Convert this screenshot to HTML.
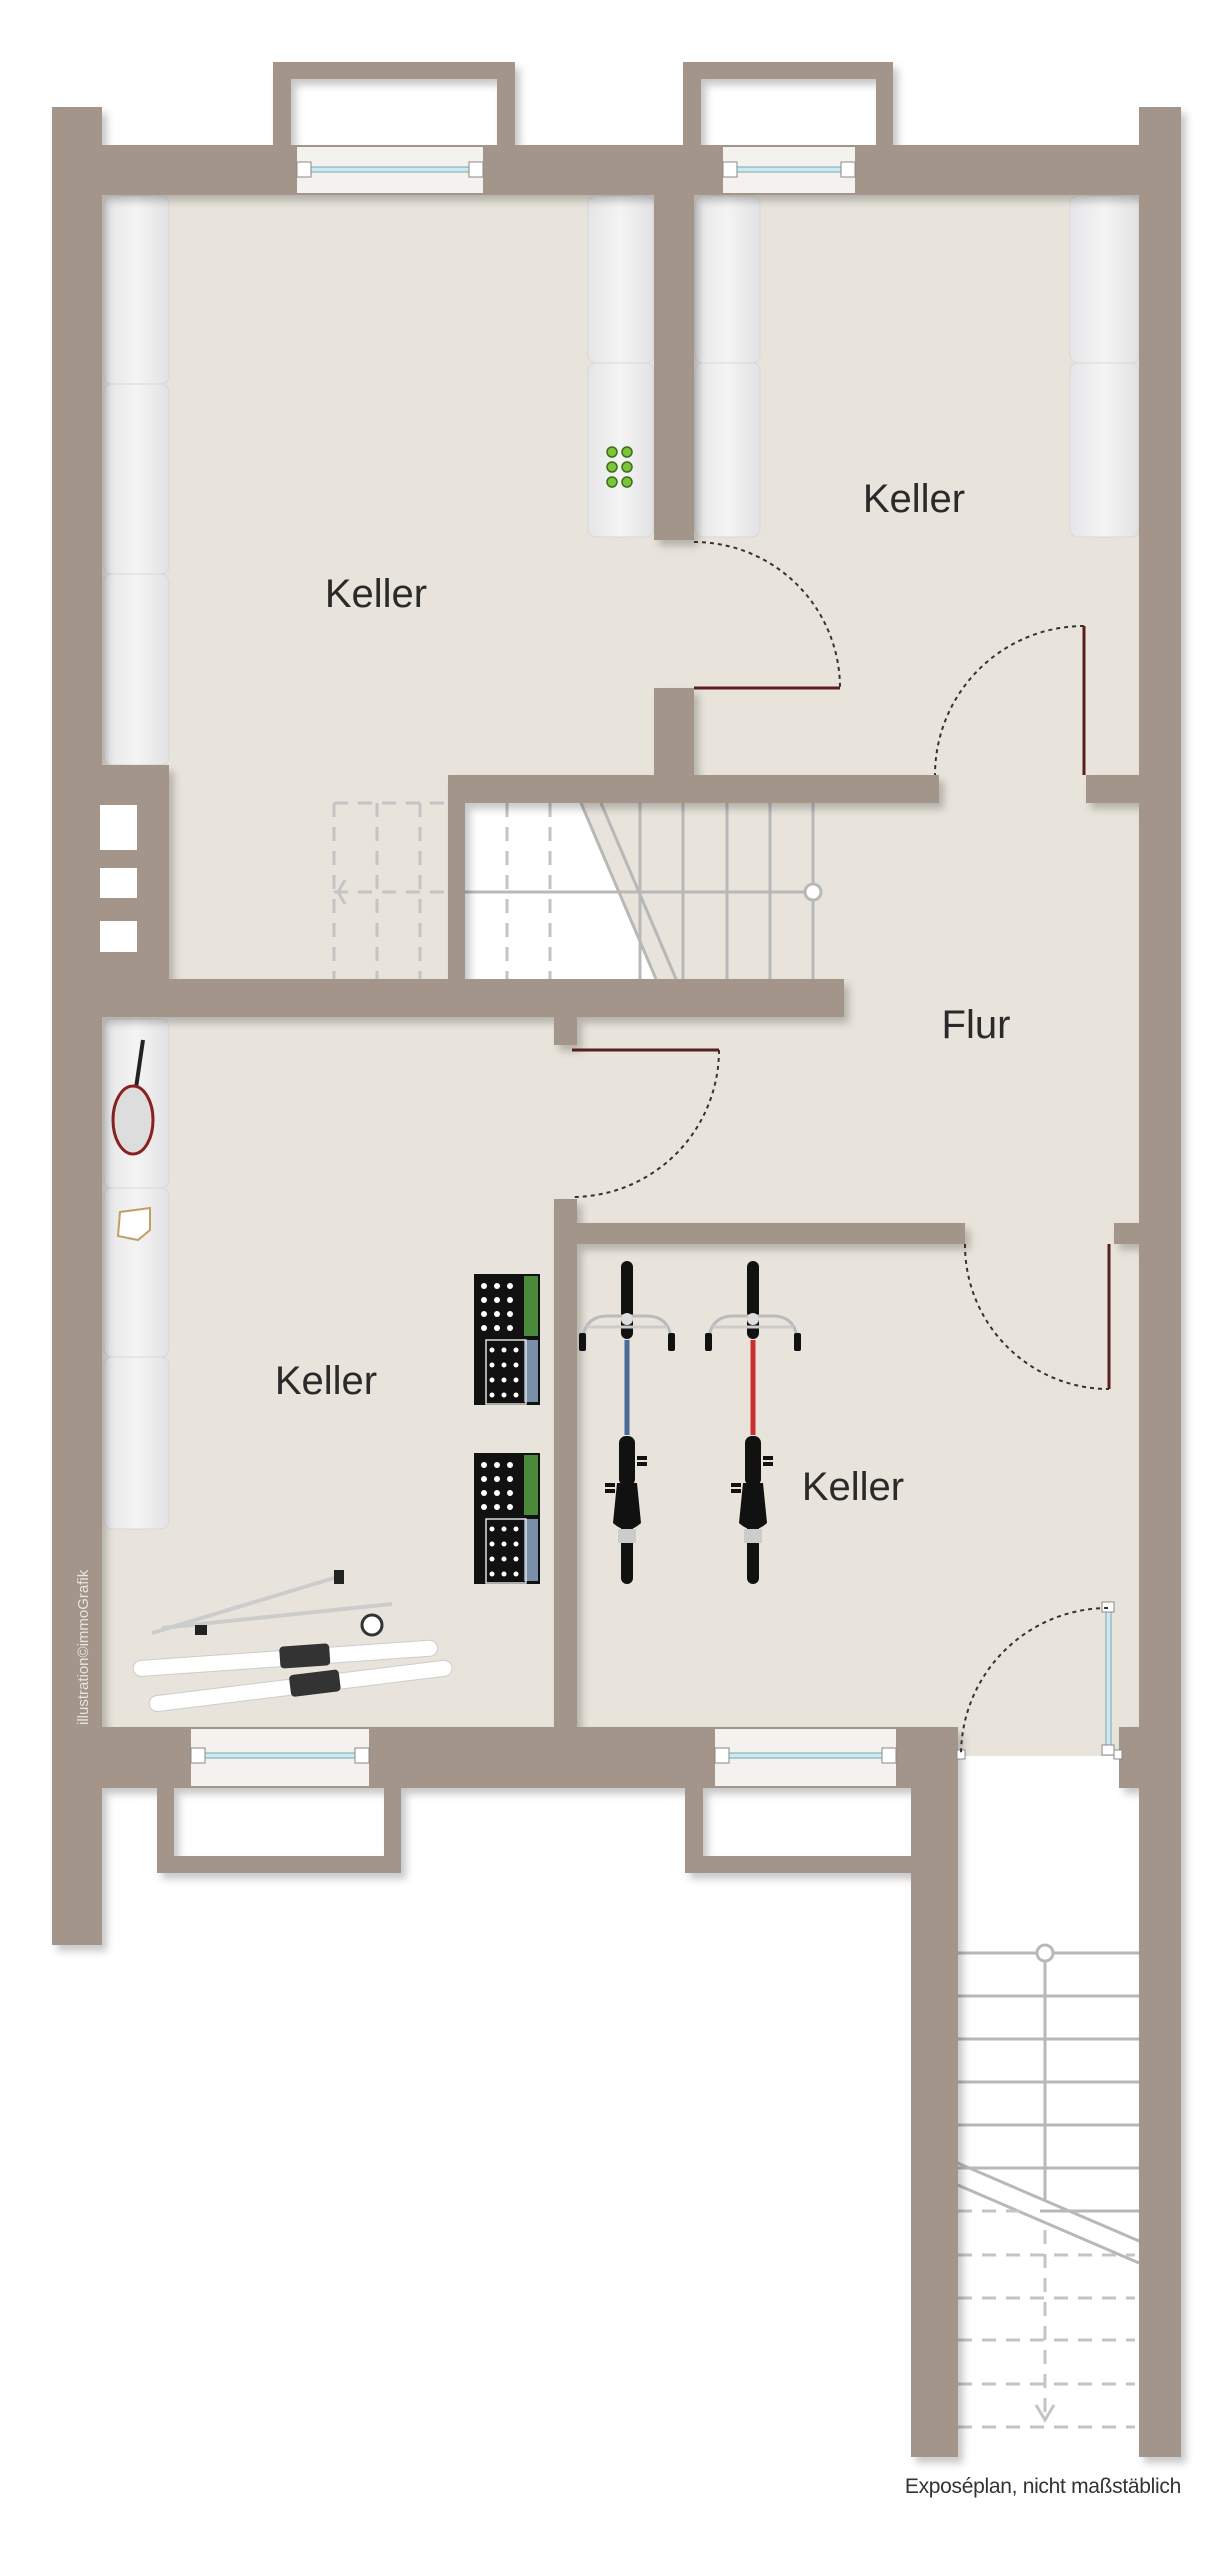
<!DOCTYPE html>
<html><head><meta charset="utf-8"><style>
html,body{margin:0;padding:0;background:#fff}
svg{display:block}
text{font-family:"Liberation Sans",sans-serif}
</style></head><body>
<svg width="1232" height="2560" viewBox="0 0 1232 2560" xmlns="http://www.w3.org/2000/svg">
<defs>
<filter id="sh" x="-5%" y="-5%" width="110%" height="110%"><feDropShadow dx="5" dy="6" stdDeviation="4" flood-color="#000" flood-opacity="0.22"/></filter>
<linearGradient id="shelf" x1="0" x2="1"><stop offset="0" stop-color="#e6e6e8"/><stop offset="0.5" stop-color="#f4f4f5"/><stop offset="1" stop-color="#e2e2e4"/></linearGradient>
<g id="bike">
<rect x="-6" y="0" width="12" height="78" rx="6" fill="#111"/>
<path d="M-44 75 Q-40 55 -20 55 L20 55 Q40 55 44 75" fill="none" stroke="#bbb" stroke-width="3"/>
<rect x="-48" y="72" width="7" height="18" rx="2" fill="#111"/><rect x="41" y="72" width="7" height="18" rx="2" fill="#111"/>
<line x1="-40" y1="66" x2="40" y2="66" stroke="#ccc" stroke-width="3"/>
<circle cx="0" cy="58" r="6" fill="#ddd"/>
<rect x="-8" y="175" width="16" height="50" rx="7" fill="#111"/>
<path d="M-10 222 L10 222 L14 262 Q0 275 -14 262 Z" fill="#111"/>
<rect x="10" y="195" width="10" height="4" fill="#111"/><rect x="10" y="201" width="10" height="4" fill="#111"/>
<rect x="-22" y="222" width="10" height="4" fill="#111"/><rect x="-22" y="228" width="10" height="4" fill="#111"/>
<rect x="-6" y="245" width="12" height="78" rx="6" fill="#111"/>
<rect x="-9" y="268" width="18" height="14" fill="#ccc"/>
</g>
<g id="crate">
<rect x="0" y="0" width="66" height="131" fill="#111"/>
<rect x="50" y="2" width="14" height="60" fill="#4a8a3a"/>
<rect x="50" y="66" width="14" height="62" fill="#7a8fa8"/>
<g fill="#fff">
<circle cx="10" cy="12" r="3"/><circle cx="23" cy="12" r="3"/><circle cx="36" cy="12" r="3"/>
<circle cx="10" cy="26" r="3"/><circle cx="23" cy="26" r="3"/><circle cx="36" cy="26" r="3"/>
<circle cx="10" cy="40" r="3"/><circle cx="23" cy="40" r="3"/><circle cx="36" cy="40" r="3"/>
<circle cx="10" cy="54" r="3"/><circle cx="23" cy="54" r="3"/><circle cx="36" cy="54" r="3"/>
<circle cx="18" cy="76" r="2.5"/><circle cx="30" cy="76" r="2.5"/><circle cx="42" cy="76" r="2.5"/>
<circle cx="18" cy="91" r="2.5"/><circle cx="30" cy="91" r="2.5"/><circle cx="42" cy="91" r="2.5"/>
<circle cx="18" cy="106" r="2.5"/><circle cx="30" cy="106" r="2.5"/><circle cx="42" cy="106" r="2.5"/>
<circle cx="18" cy="121" r="2.5"/><circle cx="30" cy="121" r="2.5"/><circle cx="42" cy="121" r="2.5"/>
</g>
<rect x="12" y="66" width="40" height="64" fill="none" stroke="#ddd" stroke-width="1.5"/>
</g>
</defs>

<!-- floor -->
<path d="M102 195 H1139 V1756 H958 V1727 H102 Z" fill="#e8e4db"/>
<!-- stair white area -->
<polygon points="465,803 581,803 656,979 465,979" fill="#fff"/>

<!-- stairs interior -->
<g stroke="#b8b8b8" stroke-width="3" fill="none">
<line x1="581" y1="803" x2="656" y2="979"/><line x1="601" y1="803" x2="676" y2="979"/>
<line x1="640" y1="803" x2="640" y2="979"/><line x1="683" y1="803" x2="683" y2="979"/><line x1="727" y1="803" x2="727" y2="979"/><line x1="770" y1="803" x2="770" y2="979"/><line x1="813" y1="803" x2="813" y2="979"/>
<line x1="465" y1="892" x2="805" y2="892"/>
</g>
<circle cx="813" cy="892" r="8" fill="#fff" stroke="#b8b8b8" stroke-width="3"/>
<g stroke="#c4c4c4" stroke-width="3" fill="none" stroke-dasharray="14 10">
<line x1="507" y1="803" x2="507" y2="979"/><line x1="550" y1="803" x2="550" y2="979"/>
<line x1="334" y1="803" x2="334" y2="979"/><line x1="377" y1="803" x2="377" y2="979"/><line x1="420" y1="803" x2="420" y2="979"/>
<line x1="334" y1="803" x2="448" y2="803"/><line x1="334" y1="892" x2="465" y2="892"/>
</g>
<path d="M345 880 L338 892 L345 904" stroke="#c4c4c4" stroke-width="3" fill="none"/>

<!-- exterior stairs -->
<g stroke="#b8b8b8" stroke-width="3" fill="none">
<line x1="958" y1="1953" x2="1139" y2="1953"/><line x1="958" y1="1996" x2="1139" y2="1996"/><line x1="958" y1="2039" x2="1139" y2="2039"/><line x1="958" y1="2082" x2="1139" y2="2082"/><line x1="958" y1="2125" x2="1139" y2="2125"/><line x1="958" y1="2168" x2="1139" y2="2168"/><line x1="1040" y1="2211" x2="1139" y2="2211"/>
<line x1="1045" y1="1960" x2="1045" y2="2200"/>
<line x1="953" y1="2161" x2="1139" y2="2241"/><line x1="953" y1="2183" x2="1139" y2="2263"/>
</g>
<g stroke="#c4c4c4" stroke-width="3" fill="none" stroke-dasharray="14 10">
<line x1="958" y1="2211" x2="1030" y2="2211"/>
<line x1="958" y1="2255" x2="1135" y2="2255"/><line x1="958" y1="2298" x2="1135" y2="2298"/><line x1="958" y1="2340" x2="1135" y2="2340"/><line x1="958" y1="2384" x2="1135" y2="2384"/><line x1="958" y1="2427" x2="1135" y2="2427"/>
<line x1="1045" y1="2230" x2="1045" y2="2420"/>
</g>
<circle cx="1045" cy="1953" r="8" fill="#fff" stroke="#b8b8b8" stroke-width="3"/>
<path d="M1036 2405 L1045 2420 L1054 2405" stroke="#c4c4c4" stroke-width="3" fill="none"/>

<!-- shelves -->
<g fill="url(#shelf)" stroke="#d8d8da" stroke-width="1">
<rect x="104" y="196" width="65" height="188" rx="8"/><rect x="104" y="384" width="65" height="190" rx="8"/><rect x="104" y="574" width="65" height="191" rx="8"/>
<rect x="588" y="196" width="66" height="167" rx="8"/><rect x="588" y="363" width="66" height="174" rx="8"/>
<rect x="695" y="196" width="65" height="167" rx="8"/><rect x="695" y="363" width="65" height="174" rx="8"/>
<rect x="1070" y="196" width="69" height="167" rx="8"/><rect x="1070" y="363" width="69" height="174" rx="8"/>
<rect x="104" y="1019" width="65" height="169" rx="8"/><rect x="104" y="1188" width="65" height="169" rx="8"/><rect x="104" y="1357" width="65" height="172" rx="8"/>
</g>
<g fill="#7cc43a" stroke="#3c6e1a" stroke-width="1.5">
<circle cx="612" cy="452" r="5"/><circle cx="627" cy="452" r="5"/><circle cx="612" cy="467" r="5"/><circle cx="627" cy="467" r="5"/><circle cx="612" cy="482" r="5"/><circle cx="627" cy="482" r="5"/>
</g>
<!-- racket -->
<line x1="143" y1="1040" x2="136" y2="1088" stroke="#222" stroke-width="4"/>
<ellipse cx="133" cy="1120" rx="20" ry="34" fill="#ddd" stroke="#8a2020" stroke-width="3"/>
<!-- shoes -->
<path d="M120 1212 L150 1208 L150 1230 L138 1240 L118 1236 Z" fill="#fff" stroke="#bfa060" stroke-width="2"/>

<!-- walls -->
<g fill="#a39589" filter="url(#sh)">
<rect x="52" y="107" width="50" height="1838"/>
<rect x="52" y="145" width="1129" height="50"/>
<rect x="1139" y="107" width="42" height="2350"/>
<rect x="273" y="62" width="242" height="17"/><rect x="273" y="62" width="18" height="85"/><rect x="497" y="62" width="18" height="85"/>
<rect x="683" y="62" width="210" height="17"/><rect x="683" y="62" width="18" height="85"/><rect x="876" y="62" width="17" height="85"/>
<rect x="654" y="195" width="40" height="345"/>
<rect x="654" y="688" width="40" height="90"/>
<rect x="448" y="775" width="491" height="28"/>
<rect x="1086" y="775" width="53" height="28"/>
<rect x="448" y="775" width="17" height="204"/>
<rect x="52" y="765" width="117" height="214"/>
<rect x="52" y="979" width="792" height="38"/>
<rect x="554" y="1017" width="23" height="28"/>
<rect x="554" y="1199" width="23" height="528"/>
<rect x="577" y="1223" width="388" height="21"/>
<rect x="1114" y="1223" width="25" height="21"/>
<rect x="52" y="1727" width="906" height="61"/>
<rect x="1119" y="1727" width="20" height="61"/>
<rect x="911" y="1727" width="47" height="730"/>
<rect x="157" y="1788" width="17" height="85"/><rect x="384" y="1788" width="17" height="85"/><rect x="157" y="1856" width="244" height="17"/>
<rect x="685" y="1788" width="18" height="85"/><rect x="685" y="1856" width="226" height="17"/>
</g>
<!-- vents -->
<g fill="#fff"><rect x="100" y="805" width="37" height="45"/><rect x="100" y="868" width="37" height="30"/><rect x="100" y="921" width="37" height="31"/></g>

<!-- windows -->
<g>
<rect x="297" y="147" width="186" height="46" fill="#f4f2ee"/>
<rect x="723" y="147" width="132" height="46" fill="#f4f2ee"/>
<rect x="191" y="1729" width="178" height="57" fill="#f4f2ee"/>
<rect x="715" y="1729" width="181" height="57" fill="#f4f2ee"/>
</g>
<g stroke="#7aa6b0" stroke-width="1" fill="#cdeaf0">
<rect x="304" y="167" width="172" height="5"/><rect x="730" y="167" width="118" height="5"/>
<rect x="198" y="1753" width="164" height="5"/><rect x="722" y="1753" width="168" height="5"/>
<rect x="1106" y="1610" width="5" height="140"/>
</g>
<g fill="#fff" stroke="#888" stroke-width="1">
<rect x="297" y="162" width="14" height="15"/><rect x="469" y="162" width="14" height="15"/>
<rect x="723" y="162" width="14" height="15"/><rect x="841" y="162" width="14" height="15"/>
<rect x="191" y="1748" width="14" height="15"/><rect x="355" y="1748" width="14" height="15"/>
<rect x="715" y="1748" width="14" height="15"/><rect x="882" y="1748" width="14" height="15"/>
<rect x="1102" y="1602" width="12" height="10"/><rect x="1102" y="1745" width="12" height="10"/>
<rect x="957" y="1750" width="8" height="9"/><rect x="1114" y="1750" width="8" height="9"/>
</g>

<!-- doors -->
<g stroke="#5a1e1e" stroke-width="3">
<line x1="694" y1="688" x2="840" y2="688"/>
<line x1="1084" y1="626" x2="1084" y2="775"/>
<line x1="572" y1="1050" x2="719" y2="1050"/>
<line x1="1109" y1="1244" x2="1109" y2="1389"/>
</g>
<g stroke="#333" stroke-width="2" fill="none" stroke-dasharray="4 4">
<path d="M694 542 A146 146 0 0 1 840 688"/>
<path d="M1084 626 A149 149 0 0 0 935 775"/>
<path d="M719 1050 A147 147 0 0 1 572 1197"/>
<path d="M965 1244 A144 144 0 0 0 1109 1389"/>
<path d="M1108 1608 A147 147 0 0 0 961 1755"/>
</g>

<!-- crates -->
<use href="#crate" x="474" y="1274"/>
<use href="#crate" x="474" y="1453"/>
<!-- bikes -->
<use href="#bike" x="627" y="1261"/>
<use href="#bike" x="753" y="1261"/>
<line x1="627" y1="1340" x2="627" y2="1435" stroke="#4a6a9a" stroke-width="5"/>
<line x1="753" y1="1340" x2="753" y2="1435" stroke="#c83030" stroke-width="5"/>

<!-- skis -->
<g transform="rotate(-4 290 1660)">
<rect x="133" y="1650" width="305" height="16" rx="8" fill="#fff" stroke="#ccc"/>
<rect x="280" y="1646" width="50" height="22" rx="4" fill="#333"/>
</g>
<g transform="rotate(-7 300 1685)">
<rect x="148" y="1678" width="305" height="16" rx="8" fill="#fff" stroke="#ccc"/>
<rect x="290" y="1674" width="50" height="22" rx="4" fill="#333"/>
</g>
<line x1="152" y1="1633" x2="344" y2="1575" stroke="#ccc" stroke-width="4"/>
<line x1="162" y1="1628" x2="392" y2="1604" stroke="#ccc" stroke-width="4"/>
<rect x="195" y="1625" width="12" height="10" fill="#222"/><rect x="334" y="1570" width="10" height="14" fill="#222"/>
<circle cx="372" cy="1625" r="10" fill="#fff" stroke="#333" stroke-width="3"/>

<!-- labels -->
<g fill="#2a2a2a" font-size="40" text-anchor="middle">
<text x="376" y="607">Keller</text>
<text x="914" y="512">Keller</text>
<text x="976" y="1038">Flur</text>
<text x="326" y="1394">Keller</text>
<text x="853" y="1500">Keller</text>
</g>
<text x="1181" y="2493" text-anchor="end" font-size="21" fill="#333" letter-spacing="-0.3">Exposéplan, nicht maßstäblich</text>
<text transform="translate(88 1725) rotate(-90)" font-size="15" fill="#e8e4e0">illustration©immoGrafik</text>
</svg>
</body></html>
